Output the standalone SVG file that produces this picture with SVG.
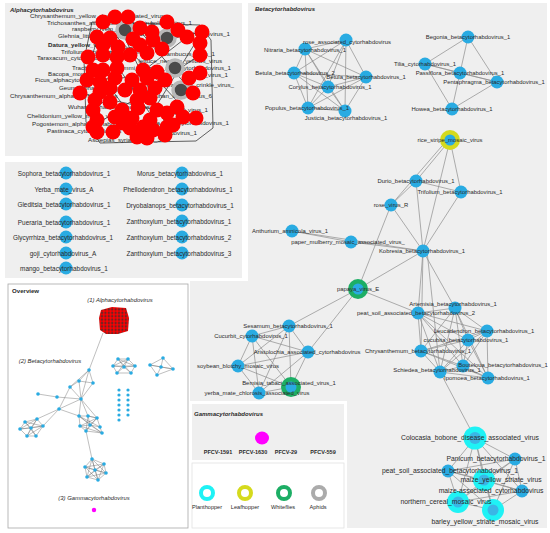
<svg xmlns="http://www.w3.org/2000/svg" width="550" height="533" viewBox="0 0 550 533">
<defs>
<style>
.t{font-family:"Liberation Sans",Arial,sans-serif;fill:#2a2a2a}
.lb{font-size:5.9px;text-anchor:middle}
.lg{font-size:6.8px;text-anchor:middle}
.ll{font-size:6.4px;text-anchor:middle}
.la{font-size:6.2px}
.ttl{font-size:6px;font-weight:bold;font-style:italic}
.ov{font-size:5.9px;font-style:italic;text-anchor:middle}
.e{stroke:#8c8c8c;stroke-width:0.7;fill:none}
.ea{stroke:#3a3a3a;stroke-width:0.8;fill:none}
.eo{stroke:#707070;stroke-width:0.45;fill:none}
.n{fill:#29abe2}
.r{fill:#ff0000}
.on{fill:#29abe2}
</style>
<pattern id="rd" width="3.4" height="3.4" patternUnits="userSpaceOnUse"><rect width="3.4" height="3.4" fill="#333"/><circle cx="1.7" cy="1.7" r="1.6" fill="#ff0000"/></pattern>
</defs>
<rect width="550" height="533" fill="#ffffff"/>
<!-- panels -->
<rect id="panel-alpha" x="5" y="3" width="237" height="153" fill="#efefef"/>
<rect id="panel-list" x="5" y="162" width="237" height="116" fill="#efefef"/>
<path id="panel-beta" d="M248 3H547V528H190V281H248Z" fill="#efefef"/>
<rect id="panel-overview" x="8" y="284" width="180" height="244" fill="#ffffff" stroke="#a8a8a8" stroke-width="0.8"/>
<rect x="190" y="401" width="157" height="129" fill="#ffffff"/>
<rect id="panel-gamma" x="192" y="404" width="152" height="56" fill="#efefef"/>
<rect id="panel-legend" x="192" y="463" width="152" height="65" fill="#ffffff" stroke="#e2e2e2" stroke-width="0.8"/>

<text class="t ttl" x="10" y="12">Alphacytorhabdovirus</text>
<text class="t ttl" x="255" y="11">Betacytorhabdovirus</text>
<text class="t ttl" x="194" y="416">Gammacytorhabdovirus</text>

<!-- connectors -->
<g id="connectors">
<path class="ea" d="M92 22L200 25L211 40L213 128L196 141L100 143L86 122L84 60Z" fill="#3c3c3c"/>
<path class="ea" d="M80 93L103 22M80 93L193 118M87 57L202 32M93 127L200 55M97 37L165 135M115 17L167 127M128 17L193 93M88 57L147 138M103 22L193 118M202 32L137 137M87 80L200 73M93 110L187 37"/>
<path class="e" d="M346 40L305 49M346 40L294 73M346 40L366 77M346 40L328 87M346 40L308 108M346 40L345 111M305 49L294 73M305 49L366 77M305 49L328 87M305 49L308 108M305 49L345 111M294 73L366 77M294 73L328 87M294 73L308 108M294 73L345 111M366 77L328 87M366 77L308 108M366 77L345 111M328 87L308 108M328 87L345 111M308 108L345 111"/>
<path class="e" d="M468 37L425 64M468 37L460 73M468 37L497 82M425 64L460 73M425 64L497 82M425 64L452 109M460 73L497 82M460 73L452 109M497 82L452 109"/>
<path class="e" d="M450 140L416 181M448 139L391 205M450 140L423 251M450 140L461 192M416 181L461 192M416 181L391 205M416 181L423 251M461 192L423 251M391 205L423 251M391 205L358 289M292 231L351 242M292 231L423 251M351 242L423 251M423 251L358 289M423 251L418 313M423 251L455 308M423 251L421 351M427 251L440 372M358 289L418 313M358 289L289 326M358 289L308 352"/>
<path class="e" d="M455 308L418 313M455 308L487 331M455 308L468 340M455 308L421 351M455 308L463 366M455 308L440 372M455 308L488 378M418 313L487 331M418 313L468 340M418 313L421 351M418 313L463 366M418 313L440 372M418 313L488 378M487 331L468 340M487 331L421 351M487 331L463 366M487 331L440 372M487 331L488 378M468 340L421 351M468 340L463 366M468 340L440 372M468 340L488 378M421 351L463 366M421 351L440 372M421 351L488 378M463 366L440 372M463 366L488 378M440 372L488 378"/>
<path class="e" d="M440 372L475 438"/>
<path class="e" d="M289 326L252 336M289 326L308 352M289 326L238 366M289 326L291 387M289 326L259 393M252 336L308 352M252 336L238 366M252 336L291 387M252 336L259 393M308 352L238 366M308 352L291 387M308 352L259 393M238 366L291 387M238 366L259 393M291 387L259 393"/>
<path class="e" d="M475 438L515 459M475 438L448 471M475 438L484 480M475 438L522 491M475 438L458 502M475 438L493 510M515 459L448 471M515 459L484 480M515 459L522 491M515 459L458 502M515 459L493 510M448 471L484 480M448 471L522 491M448 471L458 502M448 471L493 510M484 480L522 491M484 480L458 502M484 480L493 510M522 491L458 502M522 491L493 510M458 502L493 510"/>
<!-- overview connectors -->
<path class="eo" d="M103 333L89 370M89 370L79 381M89 370L93 383M89 370L70 387M89 370L81 399M79 381L93 383M79 381L70 387M79 381L81 399M93 383L81 399M70 387L81 399M70 387L59 409M38 394L57 397M57 397L81 399M81 399L59 409M59 409L43 426M59 409L37 419M81 399L79 416M81 399L88 416M81 399L97 418M59 409L79 416"/>
<path class="eo" d="M37 419L25 422L20 429L27 436L36 436L43 426L37 419M37 419L27 436M25 422L36 436M20 429L43 426M25 422L43 426M37 419L20 429M27 436L43 426M31 428L37 419M31 428L20 429M31 428L36 436M31 428L43 426M31 428L25 422M31 428L27 436"/>
<path class="eo" d="M79 416L88 416L97 418L100 427L102 433L86 431L80 426Z M90 425L79 416M90 425L88 416M90 425L97 418M90 425L100 427M90 425L102 433M90 425L86 431M90 425L80 426M79 416L100 427M88 416L86 431M97 418L80 426M80 426L102 433M79 416L102 433M97 418L86 431M88 416L97 418M86 431L92 459"/>
<path class="eo" d="M92 459L104 464L106 473L98 480L87 477L85 467Z M95 470L92 459M95 470L104 464M95 470L106 473M95 470L98 480M95 470L87 477M95 470L85 467M92 459L106 473M92 459L98 480M85 467L104 464M85 467L106 473M104 464L87 477M104 464L98 480M87 477L106 473M92 459L87 477M85 467L98 480"/>
<path class="eo" d="M118 359L128 359L135 366L131 373L117 373L113 366Z M124 367L118 359M124 367L128 359M124 367L135 366M124 367L131 373M124 367L117 373M124 367L113 366M118 359L131 373M128 359L117 373M113 366L135 366M118 359L135 366M128 359L113 366"/>
<path class="eo" d="M163 358L150 365M163 358L173 369M163 358L161 367M150 365L157 375M150 365L161 367M173 369L157 375M173 369L161 367M157 375L161 367M150 365L173 369"/>
</g>

<!-- alpha labels (partly hidden) -->
<g id="alpha-labels" class="t la">
<text x="30" y="18">Chrysanthemum_yellow_dwarf_associated_virus</text>
<text x="47" y="24.5">Trichosanthes_associated_rhabdovirus</text>
<text x="72" y="31">raspberry_vein_chlorosis_virus</text>
<text x="58" y="38">Glehnia_littoralis_virus_1</text>
<text x="48" y="46.5" font-weight="bold">Datura_yellow_vein_virus</text>
<text x="61" y="54">Trifolium_alphacytorhabdovirus</text>
<text x="37" y="60">Taraxacum_cytorhabdovirus</text>
<text x="72" y="70">Trachyspermum_ammi_virus</text>
<text x="48" y="76">Bacopa_monnieri_virus_1</text>
<text x="35" y="82">Ficus_alphacytorhabdovirus</text>
<text x="59" y="90">Geum_alphacytorhabdovirus</text>
<text x="10" y="98">Chrysanthemum_alphacytorhabdovirus</text>
<text x="68" y="109">Wuhan_alphacytorhabdovirus</text>
<text x="27" y="118">Chelidonium_yellow_mottle_virus</text>
<text x="32" y="126">Pogostemom_alphacytorhabdovirus</text>
<text x="47" y="133">Pastinaca_cytorhabdovirus</text>
<text x="88" y="141.5">Asclepias_syriaca_virus_3</text>
<g text-anchor="end">
<text x="192" y="24.5">Lolium_virus_1</text>
<text x="230" y="36">Cnidium_alphacytorhabdovirus_1</text>
<text x="215" y="56">Sambucus_virus_1</text>
<text x="222" y="63">lettuce_necrotic_yellows_virus</text>
<text x="231" y="70">Apium_alphacytorhabdovirus_1</text>
<text x="228" y="77">Persea_virus_1</text>
<text x="234" y="87">strawberry_crinkle_virus_</text>
<text x="212" y="98">Wuhan_insect_virus_6</text>
<text x="208" y="112">Persimmon_virus_1</text>
<text x="229" y="125">Alfalfa_alphacytorhabdovirus_1</text>
<text x="197" y="134.5">Tomato_rhabdovirus_1</text>
</g>
</g>

<!-- alpha nodes -->
<g id="alpha-nodes">
<g fill="#4a4a4a" stroke="#b8b8b8" stroke-width="3.5">
<circle cx="125" cy="30" r="8"/><circle cx="167" cy="38" r="8"/><circle cx="175" cy="68" r="8"/><circle cx="181" cy="90" r="8"/>
</g>
<g class="r">
<circle cx="103" cy="22" r="7.5"/><circle cx="115" cy="17" r="7.5"/><circle cx="128" cy="17" r="7.5"/><circle cx="167" cy="22" r="7.5"/><circle cx="140" cy="28" r="7.5"/><circle cx="152" cy="32" r="7.5"/><circle cx="178" cy="30" r="7.5"/><circle cx="202" cy="32" r="7.5"/><circle cx="97" cy="37" r="7.5"/><circle cx="110" cy="38" r="7.5"/><circle cx="133" cy="39" r="7.5"/><circle cx="153" cy="40" r="7.5"/><circle cx="187" cy="37" r="7.5"/><circle cx="103" cy="45" r="7.5"/><circle cx="118" cy="47" r="7.5"/><circle cx="140" cy="45" r="7.5"/><circle cx="162" cy="49" r="7.5"/><circle cx="200" cy="43" r="7.5"/><circle cx="88" cy="57" r="7.5"/><circle cx="103" cy="55" r="7.5"/><circle cx="117" cy="57" r="7.5"/><circle cx="130" cy="55" r="7.5"/><circle cx="147" cy="53" r="7.5"/><circle cx="200" cy="55" r="7.5"/><circle cx="93" cy="70" r="7.5"/><circle cx="103" cy="70" r="7.5"/><circle cx="117" cy="68" r="7.5"/><circle cx="143" cy="70" r="7.5"/><circle cx="157" cy="72" r="7.5"/><circle cx="200" cy="73" r="7.5"/><circle cx="87" cy="80" r="7.5"/><circle cx="100" cy="82" r="7.5"/><circle cx="115" cy="78" r="7.5"/><circle cx="132" cy="80" r="7.5"/><circle cx="147" cy="78" r="7.5"/><circle cx="165" cy="80" r="7.5"/><circle cx="189" cy="78" r="7.5"/><circle cx="80" cy="93" r="7.5"/><circle cx="100" cy="92" r="7.5"/><circle cx="110" cy="88" r="7.5"/><circle cx="125" cy="90" r="7.5"/><circle cx="140" cy="90" r="7.5"/><circle cx="155" cy="88" r="7.5"/><circle cx="193" cy="93" r="7.5"/><circle cx="95" cy="100" r="7.5"/><circle cx="110" cy="102" r="7.5"/><circle cx="137" cy="100" r="7.5"/><circle cx="150" cy="98" r="7.5"/><circle cx="93" cy="110" r="7.5"/><circle cx="122" cy="110" r="7.5"/><circle cx="138" cy="108" r="7.5"/><circle cx="157" cy="110" r="7.5"/><circle cx="167" cy="113" r="7.5"/><circle cx="177" cy="107" r="7.5"/><circle cx="97" cy="120" r="7.5"/><circle cx="115" cy="117" r="7.5"/><circle cx="132" cy="118" r="7.5"/><circle cx="150" cy="120" r="7.5"/><circle cx="183" cy="117" r="7.5"/><circle cx="196" cy="118" r="7.5"/><circle cx="93" cy="127" r="7.5"/><circle cx="123" cy="123" r="7.5"/><circle cx="143" cy="127" r="7.5"/><circle cx="173" cy="125" r="7.5"/><circle cx="97" cy="132" r="7.5"/><circle cx="113" cy="132" r="7.5"/><circle cx="130" cy="128" r="7.5"/><circle cx="153" cy="130" r="7.5"/><circle cx="167" cy="127" r="7.5"/><circle cx="137" cy="137" r="7.5"/><circle cx="147" cy="138" r="7.5"/><circle cx="165" cy="135" r="7.5"/>
</g>
</g>

<!-- list panel nodes -->
<g id="list-nodes" class="n">
<circle cx="66" cy="173" r="6.5"/><circle cx="66" cy="189" r="6.5"/><circle cx="66" cy="204" r="6.5"/><circle cx="66" cy="222" r="6.5"/><circle cx="66" cy="237" r="6.5"/><circle cx="66" cy="253" r="6.5"/><circle cx="66" cy="268" r="6.5"/>
<circle cx="182" cy="173" r="6.5"/><circle cx="182" cy="189" r="6.5"/><circle cx="182" cy="205" r="6.5"/><circle cx="182" cy="221" r="6.5"/><circle cx="182" cy="237" r="6.5"/><circle cx="182" cy="253" r="6.5"/>
</g>
<g id="list-labels" class="t ll">
<text x="64" y="176">Sophora_betacytorhabdovirus_1</text>
<text x="64" y="192">Yerba_mate_virus_A</text>
<text x="64" y="207">Gleditsia_betacytorhabdovirus_1</text>
<text x="64" y="225">Pueraria_betacytorhabdovirus_1</text>
<text x="63" y="240">Glycyrrhiza_betacytorhabdovirus_1</text>
<text x="63" y="256">goji_cytorhabdovirus_A</text>
<text x="64" y="271">mango_betacytorhabdovirus_1</text>
<text x="180" y="176">Morus_betacytorhabdovirus_1</text>
<text x="178" y="192">Phellodendron_betacytorhabdovirus_1</text>
<text x="180" y="208">Dryobalanops_betacytorhabdovirus_1</text>
<text x="179" y="224">Zanthoxylum_betacytorhabdovirus_1</text>
<text x="179" y="240">Zanthoxylum_betacytorhabdovirus_2</text>
<text x="179" y="256">Zanthoxylum_betacytorhabdovirus_3</text>
</g>

<!-- beta nodes -->
<g id="beta-nodes">
<g id="ring-nodes">
<circle cx="450" cy="140" r="10" fill="#d5da1d"/>
<circle cx="358" cy="289" r="10" fill="#1dae65"/>
<circle cx="291" cy="387" r="10" fill="#1dae65"/>
<circle cx="475" cy="438" r="11.5" fill="#1ff2f5"/>
<circle cx="484" cy="480" r="11" fill="#1ff2f5"/>
<circle cx="458" cy="502" r="11" fill="#1ff2f5"/>
<circle cx="493" cy="510" r="11" fill="#1ff2f5"/>
</g>
<g class="n">
<circle cx="346" cy="40" r="6.5"/><circle cx="305" cy="49" r="6.5"/><circle cx="294" cy="73" r="6.5"/><circle cx="366" cy="77" r="6.5"/><circle cx="328" cy="87" r="6.5"/><circle cx="308" cy="108" r="6.5"/><circle cx="345" cy="111" r="6.5"/>
<circle cx="468" cy="37" r="6.5"/><circle cx="425" cy="64" r="6.5"/><circle cx="460" cy="73" r="6.5"/><circle cx="497" cy="82" r="6.5"/><circle cx="452" cy="109" r="6.5"/>
<circle cx="450" cy="140" r="5.5"/><circle cx="416" cy="181" r="6.5"/><circle cx="461" cy="192" r="6.5"/><circle cx="391" cy="205" r="6.5"/><circle cx="292" cy="231" r="6.5"/><circle cx="351" cy="242" r="6.5"/><circle cx="423" cy="251" r="6.5"/>
<circle cx="358" cy="289" r="5.5"/>
<circle cx="455" cy="308" r="6.5"/><circle cx="418" cy="313" r="6.5"/><circle cx="487" cy="331" r="6.5"/><circle cx="468" cy="340" r="6.5"/><circle cx="421" cy="351" r="6.5"/><circle cx="463" cy="366" r="6.5"/><circle cx="440" cy="372" r="6.5"/><circle cx="488" cy="378" r="6.5"/>
<circle cx="289" cy="326" r="6.5"/><circle cx="252" cy="336" r="6.5"/><circle cx="308" cy="352" r="6.5"/><circle cx="238" cy="366" r="6.5"/><circle cx="291" cy="387" r="5.5"/><circle cx="259" cy="393" r="6.5"/>
<circle cx="515" cy="459" r="6.5"/><circle cx="448" cy="471" r="6.5"/><circle cx="522" cy="491" r="6.5"/>
</g>
<g fill="#3ab6e6">
<circle cx="475" cy="438" r="6"/><circle cx="484" cy="480" r="5.5"/><circle cx="458" cy="502" r="5.5"/><circle cx="493" cy="510" r="5.5"/>
</g>
</g>
<g id="beta-labels" class="t lb">
<text x="347" y="44">rose_associated_cytorhabdovirus</text>
<text x="305" y="52">Nitraria_betacytorhabdovirus_1</text>
<text x="295" y="75">Betula_betacytorhabdovirus_2</text>
<text x="366" y="79">Betula_betacytorhabdovirus_1</text>
<text x="330" y="89">Corylus_betacytorhabdovirus_1</text>
<text x="307" y="110">Populus_betacytorhabdovirus_1</text>
<text x="346" y="120">Justicia_betacytorhabdovirus_1</text>
<text x="468" y="39">Begonia_betacytorhabdovirus_1</text>
<text x="425" y="66">Tilia_cytorhabdovirus_1</text>
<text x="460" y="75">Passiflora_betacytorhabdovirus_1</text>
<text x="494" y="84">Pentaphragma_betacytorhabdovirus_1</text>
<text x="452" y="111">Howea_betacytorhabdovirus_1</text>
<text x="450" y="142">rice_stripe_mosaic_virus</text>
<text x="416" y="183">Durio_betacytorhabdovirus_1</text>
<text x="460" y="194">Trifolium_betacytorhabdovirus_1</text>
<text x="391" y="207">rose_virus_R</text>
<text x="290" y="233">Anthurium_amnicola_virus_1</text>
<text x="348" y="244">paper_mulberry_mosaic_associated_virus_</text>
<text x="422" y="253">Kobresia_betacytorhabdovirus_1</text>
<text x="358" y="291">papaya_virus_E</text>
<text x="453" y="306">Artemisia_betacytorhabdovirus_1</text>
<text x="416" y="315">peat_soil_associated_betacytorhabdovirus_2</text>
<text x="484" y="333">Leucadendron_betacytorhabdovirus_1</text>
<text x="466" y="342">cucubita_betacytorhabdovirus_1</text>
<text x="418" y="353">Chrysanthemum_betacytorhabdovirus_1</text>
<text x="503" y="367">Bouteloua_betacytorhabdovirus_1</text>
<text x="437" y="372">Schiedea_betacytorhabdovirus_1</text>
<text x="487" y="380">Ipomoea_betacytorhabdovirus_1</text>
<text x="288" y="328">Sesamum_betacytorhabdovirus_1</text>
<text x="251" y="338">Cucurbit_cytorhabdovirus_1</text>
<text x="307" y="354">Aristolochia_associated_cytorhabdovirus</text>
<text x="238" y="368">soybean_blotchy_mosaic_virus</text>
<text x="289" y="385">Bemisia_tabaci_associated_virus_1</text>
<text x="257" y="395">yerba_mate_chlorosis_associated_virus</text>
</g>
<g id="beta-labels-lower" class="t lg">
<text x="470" y="440">Colocasia_bobone_disease_associated_virus</text>
<text x="496" y="461">Panicum_betacytorhabdovirus_1</text>
<text x="450" y="473">peat_soil_associated_betacytorhabdovirus_1</text>
<text x="501" y="482">maize_yellow_striate_virus</text>
<text x="491" y="493">maize-associated_cytorhabdovirus</text>
<text x="446" y="504">northern_cereal_mosaic_virus</text>
<text x="485" y="524">barley_yellow_striate_mosaic_virus</text>
</g>

<!-- overview -->
<g id="overview">
<text class="t" x="12" y="293" font-size="6.1" font-weight="bold">Overview</text>
<text class="t ov" x="120" y="302">(1) Alphacytorhabdovirus</text>
<text class="t ov" x="50" y="363">(2) Betacytorhabdovirus</text>
<text class="t ov" x="94" y="500">(3) Gammacytorhabdovirus</text>
<path id="ov-alpha" d="M101 310L112 307L126 308L129 318L128 331L118 334L106 334L100 330L99 318Z" fill="url(#rd)"/>
<g class="on">
<circle cx="89" cy="370" r="1.8"/><circle cx="79" cy="381" r="1.8"/><circle cx="93" cy="383" r="1.8"/><circle cx="70" cy="387" r="1.8"/><circle cx="81" cy="399" r="1.8"/><circle cx="38" cy="394" r="1.8"/><circle cx="57" cy="397" r="1.8"/><circle cx="59" cy="409" r="1.8"/>
<circle cx="37" cy="419" r="1.8"/><circle cx="25" cy="422" r="1.8"/><circle cx="20" cy="429" r="1.8"/><circle cx="27" cy="436" r="1.8"/><circle cx="36" cy="436" r="1.8"/><circle cx="43" cy="426" r="1.8"/><circle cx="31" cy="428" r="1.8"/>
<circle cx="79" cy="416" r="1.8"/><circle cx="88" cy="416" r="1.8"/><circle cx="97" cy="418" r="1.8"/><circle cx="80" cy="426" r="1.8"/><circle cx="86" cy="431" r="1.8"/><circle cx="100" cy="427" r="1.8"/><circle cx="102" cy="433" r="1.8"/><circle cx="90" cy="425" r="1.8"/>
<circle cx="92" cy="459" r="1.8"/><circle cx="85" cy="467" r="1.8"/><circle cx="104" cy="464" r="1.8"/><circle cx="106" cy="473" r="1.8"/><circle cx="98" cy="480" r="1.8"/><circle cx="87" cy="477" r="1.8"/><circle cx="95" cy="470" r="1.8"/>
<circle cx="118" cy="359" r="1.8"/><circle cx="128" cy="359" r="1.8"/><circle cx="135" cy="366" r="1.8"/><circle cx="131" cy="373" r="1.8"/><circle cx="117" cy="373" r="1.8"/><circle cx="113" cy="366" r="1.8"/><circle cx="124" cy="367" r="1.8"/>
<circle cx="163" cy="358" r="1.8"/><circle cx="150" cy="365" r="1.8"/><circle cx="173" cy="369" r="1.8"/><circle cx="157" cy="375" r="1.8"/><circle cx="161" cy="367" r="1.8"/>
<circle cx="119" cy="390" r="1.6"/><circle cx="119" cy="395" r="1.6"/><circle cx="119" cy="400" r="1.6"/><circle cx="119" cy="405" r="1.6"/><circle cx="119" cy="410" r="1.6"/><circle cx="119" cy="415" r="1.6"/><circle cx="119" cy="420" r="1.6"/>
<circle cx="128" cy="390" r="1.6"/><circle cx="128" cy="395" r="1.6"/><circle cx="128" cy="400" r="1.6"/><circle cx="128" cy="405" r="1.6"/><circle cx="128" cy="410" r="1.6"/><circle cx="128" cy="415" r="1.6"/>
</g>
<circle cx="94" cy="510" r="2.2" fill="#ff00ff"/>
</g>

<!-- gamma -->
<g id="gamma">
<ellipse id="PFCV-1630" cx="262" cy="438" rx="7" ry="6.5" fill="#ff00ff"/>
<g class="t" font-size="5.5" font-weight="bold" text-anchor="middle">
<text x="218" y="454">PFCV-1591</text>
<text x="253" y="454">PFCV-1630</text>
<text x="286" y="454">PFCV-29</text>
<text x="323" y="454">PFCV-559</text>
</g>
</g>

<!-- legend -->
<g id="legend">
<g fill="#ffffff" stroke-width="4">
<circle cx="207" cy="493" r="6" stroke="#1ff2f5"/>
<circle cx="245" cy="493" r="6" stroke="#d5da1d"/>
<circle cx="284" cy="493" r="6" stroke="#1dae65"/>
<circle cx="319" cy="493" r="6" stroke="#ababab"/>
</g>
<g class="t" font-size="5.6" text-anchor="middle">
<text x="207" y="509">Planthopper</text>
<text x="245" y="509">Leafhopper</text>
<text x="283" y="509">Whiteflies</text>
<text x="318" y="509">Aphids</text>
</g>
</g>
</svg>
